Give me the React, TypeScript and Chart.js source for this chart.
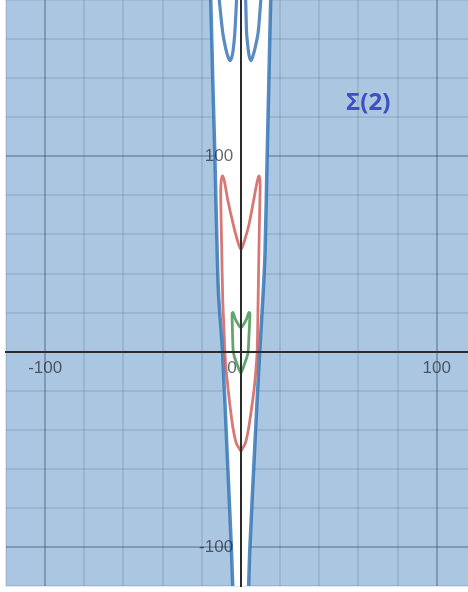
import React, { useEffect, useRef } from "react";
import { Chart, registerables } from "chart.js";

Chart.register(...registerables);

// Axis ranges and grid
const X_MIN = -120;
const X_MAX = 116;
const Y_MIN = -120;
const Y_MAX = 180;
const GRID_STEP = 20;
const LABEL_STEP = 100;

// Boundary of the unshaded (white) region
const edgeY = [185, 180, 140, 100, 50, 29, 0, -50, -100, -125];
const edgeLeftX = [-15.7, -15.4, -14.4, -13.3, -12.1, -11.4, -9.4, -7.1, -4.9, -4.0];
const edgeRightX = [15.5, 15.2, 14.3, 13.4, 12.3, 11.3, 9.6, 7.0, 4.6, 3.8];

// Blue curve near the top (two U shapes, joined above the visible area)
const blueTopX = [-12.6, -11.1, -9.3, -7.7, -6.6, -5.6, -4.6, -3.9, -3.1, -2.2, -1.4, 1.6, 2.4, 2.9, 3.7, 4.3, 5.1, 6.0, 7.1, 8.8, 10.2, 11.5];
const blueTopY = [195, 180.5, 163.4, 154.9, 151, 149, 151, 154.9, 163.4, 180.5, 195, 195, 180.5, 163.4, 154.9, 151, 149, 151, 154.9, 163.4, 180.5, 195];

// Red closed curve
const redX = [0, -2.3, -3.9, -5.3, -6.5, -7.5, -8.2, -8.8, -9.3, -9.8, -10.3, -10.2, -9.5, -8.4, -6.8, -3.9, -1.9, 0, 2.0, 4.1, 6.6, 8.3, 9.3, 9.8, 9.7, 9.2, 8.8, 8.3, 7.6, 6.7, 5.3, 3.8, 2.2, 0];
const redY = [-51, -47, -40, -30, -19.5, -10, 0, 15, 27, 52, 78, 86, 90, 87, 78, 65, 57.4, 52.3, 57.4, 65, 78, 87, 90, 86, 78, 52, 27, 0, -10, -19.5, -30, -40, -47, -51];

// Green closed curve
const greenX = [0, -1.2, -2.2, -3.2, -3.9, -4.2, -4.4, -4.5, -4.0, -2.8, -1.4, 0, 1.4, 2.8, 4.1, 4.6, 4.4, 4.0, 3.7, 3.0, 2.0, 1.1, 0];
const greenY = [-11, -8.5, -5.8, -3, 0, 6, 14, 19.5, 20, 16.5, 14, 12.2, 14, 16.5, 20, 19.5, 14, 6, 0, -3, -5.8, -8.5, -11];

// Annotation
const NOTE_TEXT = "Σ(2)";
const NOTE_X = 65;
const NOTE_Y = 127;

const SHADE = "#abc6e1";
const BLUE = "rgba(45,112,179,0.8)";
const RED = "rgba(199,68,64,0.72)";
const GREEN = "rgba(56,140,70,0.78)";
const AXIS = "#2b2b2b";
const TICK_COLOR = "rgba(30,35,45,0.7)";
const TICK_FONT = { family: "'Liberation Sans', Arial, sans-serif", size: 17 };
const TICK_FONT_FLAT = { family: "'Liberation Sans', Arial, sans-serif", size: 17, lineHeight: 0.01 };

const toPoints = (xs: number[], ys: number[]) => xs.map((x, i) => ({ x, y: ys[i] }));

const shadePlugin = {
  id: "shade",
  beforeDraw(chart: any) {
    const { ctx, chartArea } = chart;
    ctx.save();
    ctx.fillStyle = SHADE;
    ctx.fillRect(chartArea.left, chartArea.top, chartArea.right - chartArea.left, chartArea.bottom - chartArea.top);
    ctx.restore();
  },
};

const notePlugin = {
  id: "note",
  afterDraw(chart: any) {
    const { ctx, scales } = chart;
    const px = scales.x.getPixelForValue(NOTE_X);
    const py = scales.y.getPixelForValue(NOTE_Y);
    ctx.save();
    ctx.font = "bold 24px 'Open Sans', sans-serif";
    ctx.fillStyle = "#3e4fc4";
    ctx.textAlign = "center";
    ctx.textBaseline = "middle";
    ctx.fillText(NOTE_TEXT, px, py);
    ctx.restore();
  },
};

const gridColor = (c: any) =>
  c.tick && c.tick.value % LABEL_STEP === 0 ? "rgba(30,50,80,0.3)" : "rgba(30,50,80,0.11)";

export default function App() {
  const ref = useRef<HTMLCanvasElement | null>(null);

  useEffect(() => {
    if (!ref.current) return;
    const region = [...toPoints(edgeLeftX, edgeY), ...toPoints(edgeRightX, edgeY).reverse()];
    const lineDs = (data: any[], color: string, width: number, order: number) => ({
      data,
      showLine: true,
      borderColor: color,
      borderWidth: width,
      pointRadius: 0,
      pointHoverRadius: 0,
      tension: 0.3,
      fill: false,
      order,
    });
    const chart = new Chart(ref.current, {
      type: "scatter",
      data: {
        datasets: [
          {
            data: region,
            showLine: true,
            fill: "shape",
            backgroundColor: "#ffffff",
            borderColor: "rgba(0,0,0,0)",
            borderWidth: 0,
            pointRadius: 0,
            pointHoverRadius: 0,
            tension: 0,
            order: 10,
          } as any,
          lineDs(toPoints(edgeLeftX, edgeY), BLUE, 3.5, 3),
          lineDs(toPoints(edgeRightX, edgeY), BLUE, 3.5, 3),
          lineDs(toPoints(blueTopX, blueTopY), BLUE, 3.2, 2),
          lineDs(toPoints(redX, redY), RED, 2.8, 1),
          lineDs(toPoints(greenX, greenY), GREEN, 2.8, 1),
        ],
      },
      options: {
        responsive: false,
        animation: false,
        events: [],
        layout: { padding: { left: 6, right: 0, top: 0, bottom: 6 } },
        plugins: { legend: { display: false }, tooltip: { enabled: false } },
        scales: {
          x: {
            type: "linear",
            axis: "x",
            position: { y: 0 },
            min: X_MIN,
            max: X_MAX,
            ticks: {
              stepSize: GRID_STEP,
              includeBounds: false,
              autoSkip: false,
              maxRotation: 0,
              padding: 6,
              z: 1,
              color: TICK_COLOR,
              font: TICK_FONT,
              callback: (v: any) => (v % LABEL_STEP === 0 && v !== 0 ? String(v) : ""),
            },
            grid: { color: gridColor, lineWidth: 2, drawTicks: false },
            border: { display: true, color: AXIS, width: 2, z: 1 },
          },
          y: {
            type: "linear",
            axis: "y",
            position: { x: 0 },
            min: Y_MIN,
            max: Y_MAX,
            ticks: { stepSize: GRID_STEP, includeBounds: false, autoSkip: false, display: false },
            grid: { color: gridColor, lineWidth: 2, drawTicks: false },
            border: { display: true, color: AXIS, width: 2, z: 1 },
          },
          yLab: {
            type: "linear",
            axis: "y",
            position: { x: -4 },
            min: Y_MIN,
            max: Y_MAX,
            ticks: {
              stepSize: GRID_STEP,
              includeBounds: false,
              autoSkip: false,
              padding: 0,
              z: 1,
              color: TICK_COLOR,
              font: TICK_FONT_FLAT,
              callback: (v: any) => (v % LABEL_STEP === 0 && v !== 0 ? String(v) : null),
            },
            grid: { display: false, drawTicks: false },
            border: { display: false },
          },
          xZero: {
            type: "linear",
            axis: "x",
            position: { y: 0 },
            min: X_MIN,
            max: X_MAX,
            ticks: {
              stepSize: GRID_STEP,
              includeBounds: false,
              autoSkip: false,
              maxRotation: 0,
              padding: 6,
              labelOffset: -9,
              z: 1,
              color: TICK_COLOR,
              font: TICK_FONT,
              callback: (v: any) => (v === 0 ? "0" : null),
            },
            grid: { display: false, drawTicks: false },
            border: { display: false },
          },
        } as any,
      },
      plugins: [shadePlugin, notePlugin],
    } as any);
    return () => chart.destroy();
  }, []);

  return (
    <div style={{ position: "fixed", left: 0, top: 0, width: 468, height: 592, background: "#fff" }}>
      <canvas ref={ref} width={468} height={592} style={{ display: "block" }} />
    </div>
  );
}
